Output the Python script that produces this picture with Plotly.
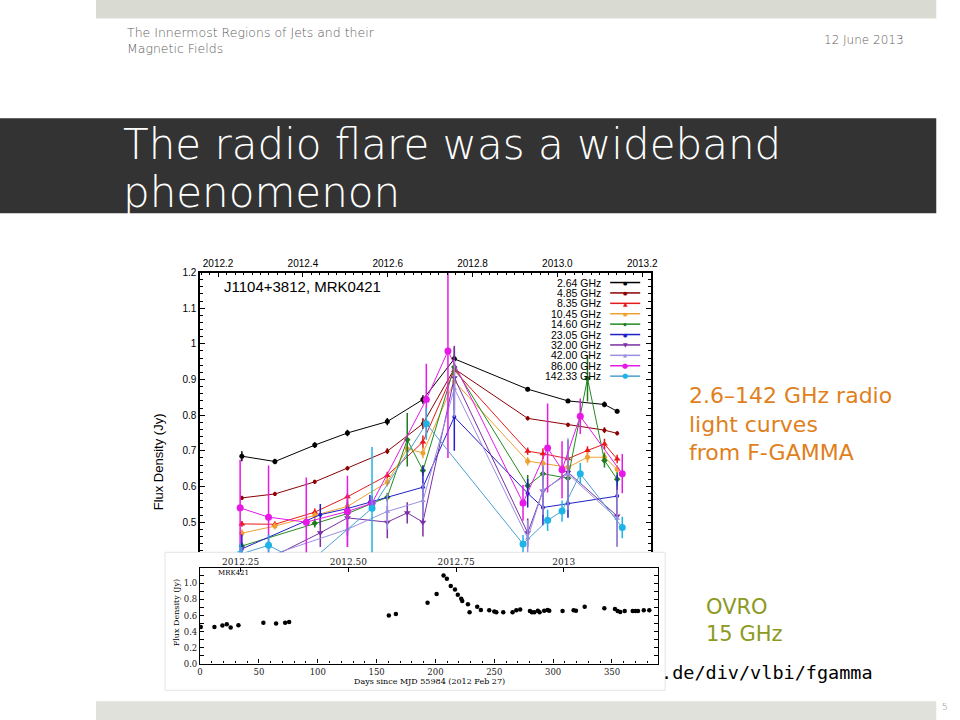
import plotly.graph_objects as go

W, H = 960, 720
# positions are given in slide pixels; small correction for the capture's framing
SX, OX, SY, OY = 0.9893, 3.0, 0.9846, 5.8
def px(x): return ((x - OX) / SX) / W
def py(y): return 1 - ((y - OY) / SY) / H

# ---------------- F-GAMMA data (decimal year, flux Jy, error Jy) ----------------
freq_names = ["2.64 GHz", "4.85 GHz", "8.35 GHz", "10.45 GHz", "14.60 GHz",
              "23.05 GHz", "32.00 GHz", "42.00 GHz", "86.00 GHz", "142.33 GHz"]

t_264 = [2012.256, 2012.334, 2012.428, 2012.505, 2012.599, 2012.683, 2012.757, 2012.930, 2013.025, 2013.111, 2013.141]
f_264 = [0.685, 0.670, 0.716, 0.750, 0.782, 0.844, 0.958, 0.873, 0.840, 0.830, 0.811]
e_264 = [0.014, 0.008, 0.008, 0.009, 0.010, 0.012, 0.010, 0.006, 0.006, 0.008, 0.006]

t_485 = [2012.256, 2012.334, 2012.428, 2012.505, 2012.599, 2012.683, 2012.757, 2012.930, 2013.025, 2013.111, 2013.141]
f_485 = [0.568, 0.579, 0.613, 0.651, 0.699, 0.776, 0.930, 0.791, 0.773, 0.758, 0.749]
e_485 = [0.006, 0.006, 0.006, 0.006, 0.008, 0.015, 0.010, 0.006, 0.006, 0.008, 0.006]

t_835 = [2012.256, 2012.334, 2012.428, 2012.505, 2012.599, 2012.683, 2012.757, 2012.930, 2012.966, 2013.025, 2013.071, 2013.111, 2013.141]
f_835 = [0.495, 0.494, 0.528, 0.571, 0.631, 0.725, 0.926, 0.699, 0.692, 0.678, 0.701, 0.719, 0.677]
e_835 = [0.008, 0.008, 0.010, 0.010, 0.010, 0.018, 0.030, 0.010, 0.015, 0.015, 0.012, 0.015, 0.012]

t_1045 = [2012.256, 2012.334, 2012.428, 2012.505, 2012.599, 2012.646, 2012.683, 2012.757, 2012.930, 2012.966, 2013.025, 2013.071, 2013.111, 2013.141]
f_1045 = [0.469, 0.489, 0.519, 0.544, 0.612, 0.706, 0.694, 0.895, 0.671, 0.665, 0.654, 0.682, 0.682, 0.648]
e_1045 = [0.010, 0.010, 0.010, 0.010, 0.012, 0.015, 0.015, 0.030, 0.012, 0.012, 0.012, 0.015, 0.015, 0.012]

t_1460 = [2012.256, 2012.428, 2012.505, 2012.599, 2012.646, 2012.683, 2012.757, 2012.930, 2012.966, 2013.025, 2013.071, 2013.111, 2013.141]
f_1460 = [0.433, 0.497, 0.524, 0.570, 0.731, 0.645, 0.935, 0.602, 0.636, 0.623, 0.903, 0.673, 0.620]
e_1460 = [0.010, 0.012, 0.010, 0.012, 0.075, 0.015, 0.055, 0.030, 0.020, 0.030, 0.065, 0.020, 0.020]

t_2305 = [2012.256, 2012.441, 2012.505, 2012.558, 2012.683, 2012.757, 2012.930, 2012.966, 2013.025, 2013.141]
f_2305 = [0.425, 0.521, 0.538, 0.556, 0.598, 0.795, 0.581, 0.541, 0.552, 0.573]
e_2305 = [0.040, 0.030, 0.020, 0.020, 0.060, 0.095, 0.040, 0.050, 0.040, 0.060]

t_3200 = [2012.256, 2012.441, 2012.505, 2012.599, 2012.646, 2012.683, 2012.757, 2012.930, 2012.966, 2013.025, 2013.141]
f_3200 = [0.360, 0.470, 0.512, 0.500, 0.526, 0.500, 0.905, 0.470, 0.587, 0.640, 0.517]
e_3200 = [0.050, 0.040, 0.050, 0.045, 0.030, 0.040, 0.090, 0.040, 0.070, 0.090, 0.085]

t_4200 = [2012.256, 2012.505, 2012.599, 2012.683, 2012.757, 2012.930, 2012.966, 2013.025, 2013.141]
f_4200 = [0.380, 0.480, 0.530, 0.560, 0.875, 0.455, 0.590, 0.635, 0.510]
e_4200 = [0.050, 0.050, 0.050, 0.050, 0.080, 0.050, 0.070, 0.100, 0.080]

t_8600 = [2012.252, 2012.319, 2012.408, 2012.505, 2012.563, 2012.691, 2012.742, 2012.919, 2012.977, 2013.011, 2013.054, 2013.153]
f_8600 = [0.540, 0.514, 0.500, 0.530, 0.553, 0.844, 0.980, 0.554, 0.708, 0.647, 0.797, 0.636]
e_8600 = [0.135, 0.145, 0.125, 0.100, 0.020, 0.100, 0.300, 0.050, 0.125, 0.080, 0.050, 0.055]

t_14233 = [2012.252, 2012.319, 2012.408, 2012.563, 2012.691, 2012.919, 2012.977, 2013.011, 2013.054, 2013.153]
f_14233 = [0.410, 0.435, 0.380, 0.539, 0.776, 0.439, 0.505, 0.531, 0.636, 0.485]
e_14233 = [0.030, 0.030, 0.030, 0.172, 0.045, 0.025, 0.030, 0.030, 0.030, 0.030]

# ---------------- OVRO 15 GHz data (days since MJD 55984, flux Jy) ----------------
ovro_days = [0.6, 12.2, 19.0, 22.7, 26.0, 32.6, 53.8, 64.6, 72.3, 75.7, 160.4, 166.4,
             193.3, 201.0, 206.9, 209.7, 213.0, 216.6, 219.0, 221.9, 222.8, 227.6, 229.0,
             235.5, 238.6, 245.7, 250.0, 251.7, 257.6, 265.5, 268.7, 272.0, 280.3, 282.0,
             284.0, 287.0, 288.5, 292.4, 295.3, 296.7, 308.0, 317.4, 319.4, 326.8, 343.5,
             352.5, 354.8, 357.0, 360.8, 367.6, 369.9, 372.1, 377.0, 381.7]
ovro_flux = [0.458, 0.458, 0.475, 0.49, 0.45, 0.48, 0.51, 0.50, 0.51, 0.52, 0.60, 0.62,
             0.76, 0.87, 1.10, 1.06, 0.97, 0.925, 0.86, 0.81, 0.78, 0.74, 0.64,
             0.71, 0.67, 0.667, 0.65, 0.64, 0.64, 0.64, 0.667, 0.675, 0.655, 0.64,
             0.64, 0.66, 0.64, 0.66, 0.67, 0.66, 0.655, 0.667, 0.66, 0.71, 0.69,
             0.68, 0.655, 0.645, 0.655, 0.655, 0.655, 0.655, 0.667, 0.667]

ovro_top_years = [2012.25, 2012.50, 2012.75, 2013.0]
ovro_top_labels = ["2012.25", "2012.50", "2012.75", "2013"]

series = [
    (t_264, f_264, e_264, "#000000", "#000000", "circle", 5),
    (t_485, f_485, e_485, "#8b0000", "#8b0000", "circle", 4),
    (t_835, f_835, e_835, "#e8191a", "#e8191a", "triangle-up", 6),
    (t_1045, f_1045, e_1045, "#f0a030", "#f0a030", "circle", 5),
    (t_1460, f_1460, e_1460, "#1e7b1e", "#228b22", "diamond", 5),
    (t_2305, f_2305, e_2305, "#2020c8", "#2020c8", "circle", 4),
    (t_3200, f_3200, e_3200, "#7b2fa6", "#7b2fa6", "triangle-down", 6),
    (t_4200, f_4200, e_4200, "#9a8fe0", "#9a8fe0", "triangle-up", 5),
    (t_8600, f_8600, e_8600, "#e619e6", "#e619e6", "circle", 7),
    (t_14233, f_14233, e_14233, "#1eb4e6", "#4aa0d0", "circle", 7),
]
legend_glyph = {"circle": "●", "triangle-up": "▲", "triangle-down": "▼", "diamond": "◆"}

fig = go.Figure()

for (t, f, e, mc, lc, sym, ms), name in zip(series, freq_names):
    fig.add_trace(go.Scatter(
        x=t, y=f, mode="lines+markers", name=name, showlegend=False,
        line=dict(color=lc, width=1),
        marker=dict(color=mc, symbol=sym, size=ms, line=dict(width=0)),
        error_y=dict(type="data", array=e, visible=True, color=mc, thickness=1.5, width=0),
        cliponaxis=True, xaxis="x", yaxis="y"))

# decimal year -> days since 2012 Feb 27 (MJD 55984)
def year_to_day(y):
    return (y - 2012.0) * 366.0 - 57.0 if y < 2013 else 309.0 + (y - 2013.0) * 365.0

fig.add_trace(go.Scatter(
    x=ovro_days, y=ovro_flux, mode="markers", showlegend=False,
    marker=dict(color="black", size=4.5, symbol="circle"),
    xaxis="x2", yaxis="y2"))
# invisible helper so that the calendar-year axis on top of the OVRO panel is drawn
fig.add_trace(go.Scatter(
    x=[year_to_day(y) for y in ovro_top_years], y=[0.5] * len(ovro_top_years),
    mode="markers", marker=dict(opacity=0), showlegend=False, hoverinfo="skip",
    xaxis="x3", yaxis="y2"))

sans = "Liberation Sans, Arial, sans-serif"
serif = "DejaVu Serif, Liberation Serif, serif"
slide_font = "DejaVu Sans, sans-serif"

fig.update_layout(
    width=W, height=H, margin=dict(l=0, r=0, t=0, b=0),
    paper_bgcolor="white", plot_bgcolor="rgba(0,0,0,0)",
    showlegend=False,
    xaxis=dict(domain=[px(200), px(651)], range=[2012.1575, 2013.2212], side="top",
               anchor="y", dtick=0.2, tick0=2012.2, tickformat=".1f",
               ticks="inside", ticklen=5, tickcolor="black", showline=True, linecolor="black",
               linewidth=1.5, mirror=False, showgrid=False, zeroline=False,
               minor=dict(ticks="inside", dtick=0.02, ticklen=3, tickcolor="black"),
               tickfont=dict(family=sans, size=10, color="black")),
    yaxis=dict(domain=[py(552), py(272.3)], range=[0.4155, 1.2], anchor="x",
               dtick=0.1, tick0=0.5, ticks="inside", ticklen=5, tickcolor="black",
               showline=True, linecolor="black", linewidth=1.5, mirror="allticks",
               showgrid=False, zeroline=False,
               minor=dict(ticks="inside", dtick=0.02, ticklen=3, tickcolor="black"),
               tickfont=dict(family=sans, size=10, color="black")),
    xaxis2=dict(domain=[px(200), px(657.7)], range=[0, 389], anchor="y2",
                dtick=50, tick0=0, ticks="inside", ticklen=4, tickcolor="black",
                showline=True, linecolor="black", linewidth=1.2, mirror=True,
                showgrid=False, zeroline=False,
                minor=dict(ticks="inside", dtick=10, ticklen=2, tickcolor="black"),
                tickfont=dict(family=serif, size=8.5, color="#222")),
    xaxis3=dict(overlaying="x2", side="top", anchor="y2", range=[0, 389],
                tickvals=[year_to_day(y) for y in ovro_top_years], ticktext=ovro_top_labels,
                ticks="inside", ticklen=4, tickcolor="black", showgrid=False, zeroline=False,
                showline=False, tickfont=dict(family=serif, size=9, color="#222")),
    yaxis2=dict(domain=[py(663.3), py(568)], range=[0, 1.19], anchor="x2",
                dtick=0.2, tick0=0, tickformat=".1f", ticks="inside", ticklen=4,
                tickcolor="black", showline=True, linecolor="black", linewidth=1.2,
                mirror="allticks", showgrid=False, zeroline=False,
                minor=dict(ticks="inside", dtick=0.1, ticklen=2, tickcolor="black"),
                tickfont=dict(family=serif, size=8.5, color="#222")),
)

def note(text, x, y, xanchor="left", size=12, color="black", family=None, angle=0,
         align="left", weight="normal"):
    return dict(text=text, x=px(x), y=py(y), xref="paper", yref="paper", xanchor=xanchor,
                yanchor="middle", align=align, showarrow=False, textangle=angle,
                font=dict(family=family or slide_font, size=size, color=color, weight=weight))

shapes = [
    dict(type="rect", xref="paper", yref="paper", x0=px(96), x1=px(936), y0=py(18.3), y1=py(-10),
         fillcolor="#d9dbd3", line=dict(width=0), layer="below"),
    dict(type="rect", xref="paper", yref="paper", x0=px(-10), x1=px(936), y0=py(213), y1=py(118),
         fillcolor="#333333", line=dict(width=0), layer="below"),
    dict(type="rect", xref="paper", yref="paper", x0=px(96), x1=px(936), y0=py(730), y1=py(701),
         fillcolor="#e1e1dc", line=dict(width=0), layer="below"),
    dict(type="rect", xref="paper", yref="paper", x0=px(165), x1=px(665), y0=py(690), y1=py(552),
         fillcolor="white", line=dict(width=1, color="#e4e4e4"), layer="below"),
]

annotations = [
    note("The Innermost Regions of Jets and their<br>Magnetic Fields", 125, 40, size=12.5,
         color="#606060", weight=200),
    note("12 June 2013", 906, 40, xanchor="right", size=12, color="#606060", weight=200),
    note("The radio flare was a wideband", 121, 144, size=42, color="white", weight=200),
    note("phenomenon", 121, 192, size=42, color="white", weight=200),
    note("5", 945, 707, xanchor="center", size=9, color="#808080", weight=200),
    note("2.6–142 GHz radio<br>light curves<br>from F-GAMMA", 687, 424, size=22,
         color="#e07f1c"),
    note("OVRO<br>15 GHz", 704, 620, size=21, color="#8c9a22"),
    note(".de/div/vlbi/fgamma", 659, 672, size=18.5,
         family="DejaVu Sans Mono, Liberation Mono, monospace"),
    note("J1104+3812, MRK0421", 222, 286, size=15, family=sans),
    note("Flux Density (Jy)", 158, 462, xanchor="center", size=13, family=sans, angle=-90),
    note("MRK421", 216, 573, size=7, family=serif),
    note("Flux Density (Jy)", 176, 612, xanchor="center", size=8, family=serif, angle=-90),
    note("Days since MJD 55984 (2012 Feb 27)", 429, 681, xanchor="center", size=8, family=serif),
]

# custom legend (text right, sample line + symbol on the right, as in gnuplot)
for i, ((t, f, e, mc, lc, sym, ms), name) in enumerate(zip(series, freq_names)):
    yrow = 282.3 + i * 10.4
    annotations.append(note(name, 603, yrow, xanchor="right", size=10.5, family=sans))
    shapes.append(dict(type="line", xref="paper", yref="paper", x0=px(610), x1=px(640),
                       y0=py(yrow), y1=py(yrow), line=dict(color=lc, width=1.5)))
    annotations.append(note(legend_glyph[sym], 625, yrow, xanchor="center", size=max(5, ms),
                            color=mc, family="DejaVu Sans"))

fig.update_layout(shapes=shapes, annotations=annotations)
fig.write_html(
    "out.html",
    config={"displayModeBar": False},
    post_script=("document.documentElement.style.margin='0px';"
                 "document.documentElement.style.overflow='hidden';"
                 "document.body.style.margin='0px';document.body.style.padding='0px';"
                 "document.body.style.overflow='hidden';"
                 "var gd=document.getElementById('{plot_id}');"
                 "gd.style.position='fixed';gd.style.left='0px';gd.style.top='0px';"),
)
